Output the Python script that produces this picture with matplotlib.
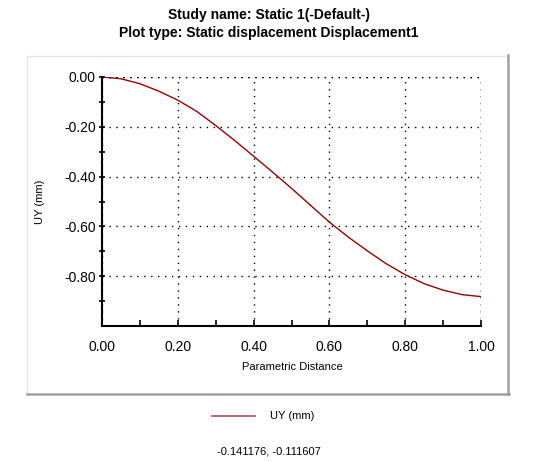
import matplotlib
matplotlib.use("Agg")
import matplotlib.pyplot as plt
from matplotlib.lines import Line2D

plt.rcParams['font.family'] = ['Liberation Sans', 'DejaVu Sans']

# values
dist = [0.00, 0.05, 0.10, 0.15, 0.20, 0.25, 0.30, 0.35, 0.40, 0.45, 0.50,
        0.55, 0.60, 0.65, 0.70, 0.75, 0.80, 0.85, 0.90, 0.95, 1.00]
uy = [0.000, -0.007, -0.027, -0.057, -0.093, -0.138, -0.195, -0.255, -0.318,
      -0.382, -0.447, -0.515, -0.583, -0.643, -0.698, -0.750, -0.794, -0.830,
      -0.856, -0.874, -0.882]

xticks = [0.0, 0.2, 0.4, 0.6, 0.8, 1.0]
yticks = [0.0, -0.2, -0.4, -0.6, -0.8]
xminor = [0.1, 0.3, 0.5, 0.7, 0.9]
yminor = [-0.1, -0.3, -0.5, -0.7, -0.9]

W, H = 537, 462
fig = plt.figure(figsize=(W / 100, H / 100), dpi=100)
fig.patch.set_facecolor('white')

# panel frame
def fx(px):
    return px / W

def fy(py):
    return 1 - py / H

fig.add_artist(Line2D([fx(27), fx(508)], [fy(56), fy(56)], color='#e6e6e6', lw=1))
fig.add_artist(Line2D([fx(27), fx(27)], [fy(56), fy(394)], color='#e6e6e6', lw=1))
fig.add_artist(Line2D([fx(508), fx(508)], [fy(55), fy(394)], color='#a0a0a0', lw=1.8))
fig.add_artist(Line2D([fx(27), fx(509)], [fy(394), fy(394)], color='#a0a0a0', lw=1.8))

ax = fig.add_axes([fx(102), fy(326), fx(481) - fx(102), fy(77) - fy(326)])
ax.plot(dist, uy, color='#990000', lw=1)

ax.set_xlim(0, 1.0)
ax.set_ylim(-1.0, 0.0)
ax.set_xticks(xticks)
ax.set_xticklabels([f"{v:.2f}" for v in xticks])
ax.set_yticks(yticks)
ax.set_yticklabels([f"{v:.2f}" for v in yticks])
ax.set_xticks(xminor, minor=True)
ax.set_yticks(yminor, minor=True)

ax.spines['top'].set_visible(False)
ax.spines['right'].set_visible(False)
for s in ['left', 'bottom']:
    ax.spines[s].set_linewidth(1.5)
ax.tick_params(axis='x', which='both', direction='in', length=4, width=1.2, labelsize=10, pad=10)
ax.tick_params(axis='y', which='both', direction='inout', length=5, width=1.2, labelsize=10, pad=2)

ax.grid(True, which='major', color='black', linestyle=(0, (1, 4)), linewidth=1)
ax.axhline(0.0, color='black', linestyle=(0, (1, 4)), linewidth=1)
ax.axvline(1.0, color='black', linestyle=(0, (1, 4)), linewidth=1)

fig.text(fx(40), fy(202), "UY (mm)", rotation=90, ha='center', va='center', fontsize=8)
fig.text(fx(292), fy(367), "Parametric Distance", ha='center', va='center', fontsize=8)

fig.text(0.5, fy(15), "Study name: Static 1(-Default-)", ha='center', va='center',
         fontsize=10, fontweight='bold')
fig.text(0.5, fy(33), "Plot type: Static displacement Displacement1", ha='center', va='center',
         fontsize=10, fontweight='bold')

# legend
fig.add_artist(Line2D([fx(212), fx(255)], [fy(416), fy(416)], color='#b0504a', lw=1.2))
fig.text(fx(270), fy(416), "UY (mm)", ha='left', va='center', fontsize=8)

fig.text(0.5, fy(451), "-0.141176, -0.111607", ha='center', va='center', fontsize=8)

fig.savefig("out.png", dpi=100)
